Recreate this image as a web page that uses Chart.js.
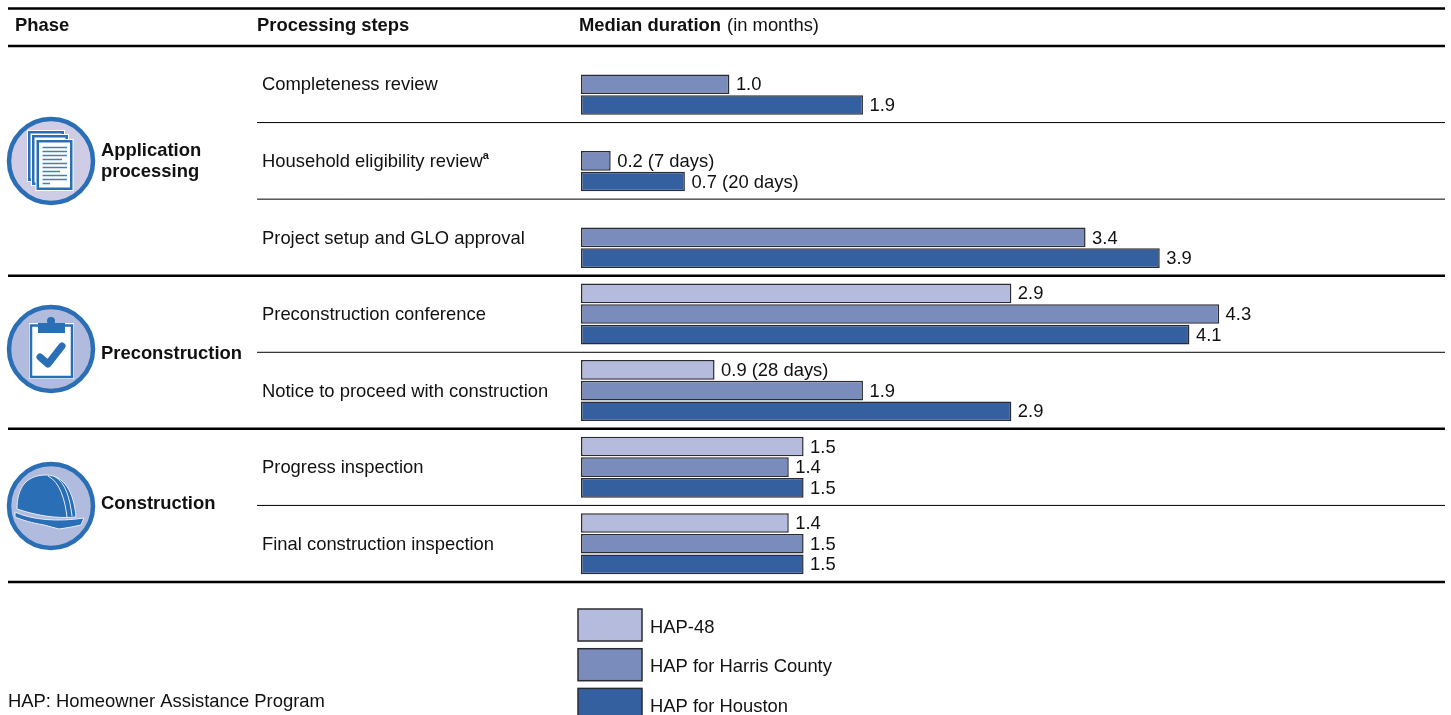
<!DOCTYPE html>
<html lang="en">
<head>
  <meta charset="UTF-8" />
  <title>Median duration of processing steps</title>
  <script src="https://cdn.jsdelivr.net/npm/chart.js"></script>
  <style>
    html, body { margin: 0; padding: 0; background: #fff; overflow: hidden; }
    canvas { display: block; }
  </style>
</head>
<body>
  <canvas id="durationChart" width="1451" height="715"></canvas>

  <script>
    const steps = [
      "Completeness review",
      "Household eligibility review",
      "Project setup and GLO approval",
      "Preconstruction conference",
      "Notice to proceed with construction",
      "Progress inspection",
      "Final construction inspection"
    ];
    const stepNotes = ["", "a", "", "", "", "", ""];

    const hap48 = [null, null, null, 2.9, 0.9, 1.5, 1.4];
    const harris = [1.0, 0.2, 3.4, 4.3, 1.9, 1.4, 1.5];
    const houston = [1.9, 0.7, 3.9, 4.1, 2.9, 1.5, 1.5];

    // days shown next to the short durations, keyed by dataset then step
    const hap48Days = [null, null, null, null, 28, null, null];
    const harrisDays = [null, 7, null, null, null, null, null];
    const houstonDays = [null, 20, null, null, null, null, null];

    const seriesNames = ["HAP-48", "HAP for Harris County", "HAP for Houston"];
    const seriesColors = ["#b5bbdc", "#7a8cbb", "#35609f"];
    const seriesDays = [hap48Days, harrisDays, houstonDays];

    const phaseLabels = [["Application", "processing"], ["Preconstruction"], ["Construction"]];
    const footnote = "HAP: Homeowner Assistance Program";

    const FONT = '"Liberation Sans", Arial, sans-serif';
    const SIZE = 18.4;
    const INK = "#111";
    const BLUE = "#2a6fb6";

    function rule(ctx, x1, x2, y, w) {
      ctx.strokeStyle = "#000";
      ctx.lineWidth = w;
      ctx.beginPath();
      ctx.moveTo(x1, y);
      ctx.lineTo(x2, y);
      ctx.stroke();
    }

    function badge(ctx, cx, cy, fill) {
      ctx.beginPath();
      ctx.arc(cx, cy, 42, 0, Math.PI * 2);
      ctx.fillStyle = fill;
      ctx.fill();
      ctx.lineWidth = 4.5;
      ctx.strokeStyle = BLUE;
      ctx.stroke();
    }

    function page(ctx, x, y, w, h) {
      ctx.fillStyle = "#fff";
      ctx.fillRect(x - 1, y - 1, w + 2, h + 2);
      ctx.strokeStyle = BLUE;
      ctx.lineWidth = 2.5;
      ctx.strokeRect(x + 1.25, y + 1.25, w - 2.5, h - 2.5);
    }

    function documentsIcon(ctx) {
      badge(ctx, 51, 161, "#cfcde6");
      page(ctx, 28, 131, 36, 50);
      page(ctx, 32, 135, 36, 50);
      page(ctx, 36.5, 140, 36, 50);
      ctx.strokeStyle = "#3f7fc0";
      ctx.lineWidth = 1.5;
      for (let i = 0; i < 10; i++) {
        const y = 147.5 + i * 4;
        const end = i === 3 ? 62 : i === 6 ? 60 : i === 9 ? 50 : 67;
        ctx.beginPath();
        ctx.moveTo(42.5, y);
        ctx.lineTo(end, y);
        ctx.stroke();
      }
    }

    function clipboardIcon(ctx) {
      badge(ctx, 51, 349, "#b0bbdd");
      ctx.fillStyle = "#fff";
      ctx.fillRect(29, 323, 45, 56);
      ctx.strokeStyle = BLUE;
      ctx.lineWidth = 2.5;
      ctx.strokeRect(31, 325.5, 41, 51.5);
      ctx.fillStyle = BLUE;
      ctx.fillRect(38, 323, 27, 10);
      ctx.beginPath();
      ctx.arc(51, 321, 4, 0, Math.PI * 2);
      ctx.fill();
      ctx.lineCap = "round";
      ctx.lineJoin = "round";
      ctx.lineWidth = 7;
      ctx.beginPath();
      ctx.moveTo(40, 357);
      ctx.lineTo(48, 364);
      ctx.lineTo(62, 346);
      ctx.stroke();
      ctx.lineCap = "butt";
      ctx.lineJoin = "miter";
    }

    function hardHatIcon(ctx) {
      badge(ctx, 51, 506, "#b0bbdd");
      ctx.fillStyle = BLUE;
      ctx.strokeStyle = "#e8ecf6";
      ctx.lineWidth = 1;
      // dome
      ctx.beginPath();
      ctx.moveTo(17, 509);
      ctx.bezierCurveTo(17, 488, 26, 475, 46, 475);
      ctx.bezierCurveTo(64, 475, 74, 492, 76, 517);
      ctx.bezierCurveTo(55, 519, 35, 515, 17, 509);
      ctx.closePath();
      ctx.fill();
      ctx.stroke();
      // ridges down the side of the shell
      ctx.beginPath();
      ctx.moveTo(48, 476);
      ctx.bezierCurveTo(60, 482, 65, 500, 67, 517);
      ctx.moveTo(54, 476);
      ctx.bezierCurveTo(66, 482, 70, 500, 72, 516);
      ctx.stroke();
      // brim
      ctx.beginPath();
      ctx.moveTo(15, 512);
      ctx.bezierCurveTo(32, 520, 58, 522, 84, 518);
      ctx.lineTo(81, 525);
      ctx.bezierCurveTo(72, 527, 66, 528, 59, 529);
      ctx.lineTo(44, 525);
      ctx.bezierCurveTo(32, 523, 22, 520, 15, 517);
      ctx.closePath();
      ctx.fill();
      ctx.stroke();
    }

    // rules, headers, phase column, legend and footnote around the plot
    const tableFrame = {
      id: "tableFrame",
      afterDraw(chart) {
        const { ctx, scales: { y } } = chart;
        const rowH = y.getPixelForTick(1) - y.getPixelForTick(0);
        const rowTop = i => y.getPixelForTick(0) - rowH / 2 + i * rowH;
        const heavy = [0, 3, 5, 7];
        const right = 1445;

        ctx.save();
        rule(ctx, 8, right, 8.5, 2.5);
        for (let i = 0; i <= steps.length; i++) {
          if (heavy.includes(i)) rule(ctx, 8, right, rowTop(i), 2.5);
          else rule(ctx, 257, right, rowTop(i), 1);
        }

        ctx.textBaseline = "middle";
        ctx.textAlign = "left";
        ctx.fillStyle = INK;

        ctx.font = "bold " + SIZE + "px " + FONT;
        ctx.fillText("Phase", 15, 26);
        ctx.fillText("Processing steps", 257, 26);
        ctx.fillText("Median duration", 579, 26);
        const headW = ctx.measureText("Median duration").width;
        ctx.font = SIZE + "px " + FONT;
        ctx.fillText("(in months)", 579 + headW + 6, 26);

        // footnote marks on the step names
        steps.forEach((s, i) => {
          if (!stepNotes[i]) return;
          ctx.font = SIZE + "px " + FONT;
          const w = ctx.measureText(s).width;
          ctx.font = "bold 11px " + FONT;
          ctx.fillText(stepNotes[i], 262 + w, y.getPixelForTick(i) - 5);
        });

        ctx.font = "bold " + SIZE + "px " + FONT;
        ctx.fillText(phaseLabels[0][0], 101, 151);
        ctx.fillText(phaseLabels[0][1], 101, 172);
        ctx.fillText(phaseLabels[1][0], 101, 354);
        ctx.fillText(phaseLabels[2][0], 101, 504);

        documentsIcon(ctx);
        clipboardIcon(ctx);
        hardHatIcon(ctx);

        // legend boxes take their colours from the datasets
        chart.data.datasets.forEach((ds, i) => {
          const top = 609 + i * 39.7;
          ctx.fillStyle = ds.backgroundColor;
          ctx.fillRect(578, top, 64, 32);
          ctx.strokeStyle = ds.borderColor;
          ctx.lineWidth = 1.5;
          ctx.strokeRect(578, top, 64, 32);
          ctx.fillStyle = INK;
          ctx.font = SIZE + "px " + FONT;
          ctx.fillText(ds.label, 650, top + 18.5);
        });

        ctx.font = SIZE + "px " + FONT;
        ctx.fillText(footnote, 8, 702);
        ctx.restore();
      }
    };

    // value labels at the end of each bar
    const barValues = {
      id: "barValues",
      afterDatasetsDraw(chart) {
        const { ctx } = chart;
        ctx.save();
        ctx.font = SIZE + "px " + FONT;
        ctx.fillStyle = INK;
        ctx.textBaseline = "middle";
        ctx.textAlign = "left";
        chart.data.datasets.forEach((ds, d) => {
          chart.getDatasetMeta(d).data.forEach((bar, i) => {
            const v = ds.data[i];
            if (v === null) return;
            const days = seriesDays[d][i];
            const text = v.toFixed(1) + (days ? " (" + days + " days)" : "");
            ctx.fillText(text, bar.x + 6.5, bar.y + 1);
          });
        });
        ctx.restore();
      }
    };

    const datasets = [hap48, harris, houston].map((values, i) => ({
      label: seriesNames[i],
      data: values,
      backgroundColor: seriesColors[i],
      borderColor: "#2b2b33",
      borderWidth: 1.5,
      borderSkipped: false,
      categoryPercentage: 0.81,
      barPercentage: 0.95
    }));

    new Chart(document.getElementById("durationChart").getContext("2d"), {
      type: "bar",
      data: { labels: steps, datasets },
      options: {
        indexAxis: "y",
        responsive: false,
        animation: false,
        layout: { padding: { left: 262, top: 46, right: 9.3, bottom: 133 } },
        plugins: {
          legend: { display: false },
          title: { display: false },
          tooltip: { enabled: false }
        },
        scales: {
          x: { display: false, min: 0, max: 5.8 },
          y: {
            type: "category",
            offset: true,
            afterFit(scale) { scale.width = 319; },
            border: { display: false },
            grid: { display: false, drawTicks: false },
            ticks: {
              autoSkip: false,
              crossAlign: "far",
              padding: 0,
              labelOffset: 1,
              color: INK,
              font: { family: FONT, size: SIZE }
            }
          }
        }
      },
      plugins: [barValues, tableFrame]
    });
  </script>
</body>
</html>
